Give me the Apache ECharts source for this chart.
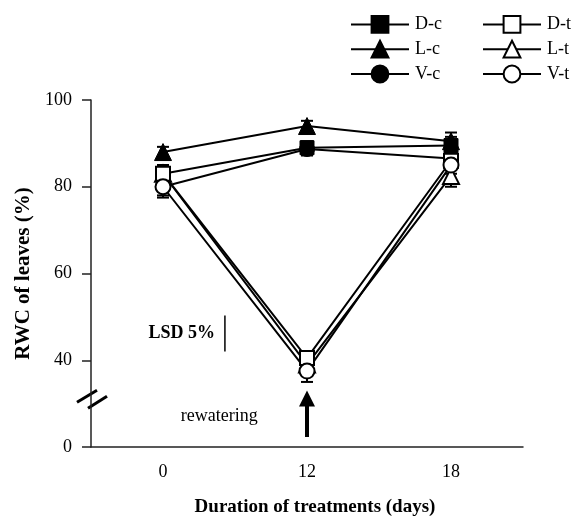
<!DOCTYPE html>
<html><head><meta charset="utf-8">
<script src="https://cdn.jsdelivr.net/npm/echarts@6/dist/echarts.min.js"></script>
<style>html,body{margin:0;padding:0;background:#fff}#c{width:576px;height:518px}</style>
</head><body><div id="c"></div>
<script>
// ---- data ----
const days = ['0', '12', '18'];
const yTickLabels = ['0', '40', '60', '80', '100'];
const D_c = [83, 89, 89.5];
const L_c = [88, 94, 90.5];
const V_c = [80, 88.7, 86.5];
const D_t = [83, 40.5, 86];
const L_t = [83, 39, 82.5];
const V_t = [80, 37.5, 85];
const errD_c = [2, 1.5, 2];
const errL_c = [1.2, 1.2, 2];
const errV_c = [2, 1.5, 2];
const errD_t = [2, 1.5, 2];
const errL_t = [2, 2, 2.5];
const errV_t = [2.5, 2.5, 2];
const LSD = 8.3;
const axisBase = 20;      // value at which the broken axis shows "0"
const breakAt = 31;       // where the break marks sit

const FONT = 'Liberation Serif';
const chart = echarts.init(document.getElementById('c'), null, {renderer: 'canvas'});

function lineSeries(name, data, symbol, filled, size) {
  return {
    name, type: 'line', data, symbol, symbolSize: size,
    z: 3,
    lineStyle: {color: '#000', width: 2},
    itemStyle: filled ? {color: '#000', borderColor: '#000', borderWidth: 1}
                      : {color: '#fff', borderColor: '#000', borderWidth: 2},
    emphasis: {disabled: true},
    animation: false
  };
}
function errSeries(vals, errs) {
  return {
    type: 'custom', silent: true, z: 2, animation: false,
    data: vals.map((v, i) => [i, v, errs[i]]),
    encode: {x: 0, y: 1},
    renderItem(params, api) {
      const i = api.value(0), v = api.value(1), e = api.value(2);
      const t = api.coord([i, v + e]), b = api.coord([i, v - e]);
      const w = 6;
      const st = {stroke: '#000', lineWidth: 2};
      return {type: 'group', children: [
        {type: 'line', shape: {x1: t[0], y1: t[1], x2: b[0], y2: b[1]}, style: st},
        {type: 'line', shape: {x1: t[0] - w, y1: t[1], x2: t[0] + w, y2: t[1]}, style: st},
        {type: 'line', shape: {x1: b[0] - w, y1: b[1], x2: b[0] + w, y2: b[1]}, style: st}
      ]};
    }
  };
}

const legendCommon = {
  orient: 'vertical', top: 15, padding: 0, itemWidth: 58, itemHeight: 21, itemGap: 6,
  textStyle: {fontFamily: FONT, fontSize: 18, color: '#000', padding: [0, 0, 0, 1]},
  selectedMode: false
};

chart.setOption({
  backgroundColor: '#fff',
  animation: false,
  textStyle: {fontFamily: FONT},
  grid: {left: 91, right: 53, top: 100, bottom: 71, containLabel: false, outerBoundsMode: 'none'},
  legend: [
    Object.assign({left: 350, data: ['D-c', 'L-c', 'V-c']}, legendCommon),
    Object.assign({left: 482, data: ['D-t', 'L-t', 'V-t']}, legendCommon)
  ],
  xAxis: {
    type: 'category', data: days, boundaryGap: true,
    name: 'Duration of treatments (days)', nameLocation: 'middle', nameGap: 51,
    nameTextStyle: {fontFamily: FONT, fontSize: 19, fontWeight: 'bold', color: '#000', padding: [0, 0, 0, 16]},
    axisLine: {lineStyle: {color: '#222', width: 1.5}},
    axisTick: {length: 7, lineStyle: {color: '#222', width: 1.5}},
    axisLabel: {fontFamily: FONT, fontSize: 18, color: '#000', margin: 16}
  },
  yAxis: {
    type: 'value', min: axisBase, max: 100, interval: 20,
    name: 'RWC of leaves (%)', nameLocation: 'middle', nameGap: 56,
    nameTextStyle: {fontFamily: FONT, fontSize: 21, fontWeight: 'bold', color: '#000'},
    axisLine: {show: true, lineStyle: {color: '#222', width: 1.5}},
    axisTick: {show: true, length: 9, lineStyle: {color: '#222', width: 1.5}},
    splitLine: {show: false},
    axisLabel: {
      fontFamily: FONT, fontSize: 18, color: '#000', margin: 19,
      formatter: v => yTickLabels[Math.round((v - axisBase) / 20)]
    }
  },
  series: [
    errSeries(L_c, errL_c), errSeries(D_c, errD_c), errSeries(V_c, errV_c),
    errSeries(L_t, errL_t), errSeries(D_t, errD_t), errSeries(V_t, errV_t),
    lineSeries('L-c', L_c, 'triangle', true, 17),
    lineSeries('V-c', V_c, 'circle', true, 15),
    lineSeries('D-c', D_c, 'rect', true, 14),
    lineSeries('L-t', L_t, 'triangle', false, 16),
    lineSeries('D-t', D_t, 'rect', false, 14),
    lineSeries('V-t', V_t, 'circle', false, 15)
  ]
});

// ---- annotations anchored to the axes ----
function P(xIdx, yVal) {
  const a = chart.convertToPixel({gridIndex: 0}, [0, yVal]);
  const b = chart.convertToPixel({gridIndex: 0}, [1, yVal]);
  return [a[0] + (b[0] - a[0]) * xIdx, a[1]];
}
const band = P(1, 50)[0] - P(0, 50)[0];
const axisX = P(0, 50)[0] - band / 2;
const yb = P(0, breakAt)[1];
const tip = P(1, 33), tail = P(1, 22.3);
const lsdTop = P(0.43, 42 + LSD), lsdBot = P(0.43, 42);
const rew = P(0.39, 27.0);

chart.setOption({
  graphic: [
    // axis break marks
    {type: 'line', shape: {x1: axisX - 14, y1: yb + 3, x2: axisX + 6, y2: yb - 9}, style: {stroke: '#000', lineWidth: 3}},
    {type: 'line', shape: {x1: axisX - 3, y1: yb + 9, x2: axisX + 16, y2: yb - 3}, style: {stroke: '#000', lineWidth: 3}},
    // LSD bar
    {type: 'line', shape: {x1: lsdTop[0], y1: lsdTop[1], x2: lsdBot[0], y2: lsdBot[1]}, style: {stroke: '#000', lineWidth: 1.5}},
    {type: 'text', x: lsdTop[0] - 10, y: (lsdTop[1] + lsdBot[1]) / 2,
     style: {text: 'LSD 5%', font: 'bold 18px "Liberation Serif"', fill: '#000', align: 'right', verticalAlign: 'middle'}},
    // rewatering
    {type: 'text', x: rew[0], y: rew[1],
     style: {text: 'rewatering', font: '18px "Liberation Serif"', fill: '#000', align: 'center', verticalAlign: 'middle'}},
    // arrow
    {type: 'line', shape: {x1: tail[0], y1: tail[1], x2: tip[0], y2: tip[1] + 12}, style: {stroke: '#000', lineWidth: 4}},
    {type: 'polygon', shape: {points: [[tip[0], tip[1]], [tip[0] - 8, tip[1] + 16], [tip[0] + 8, tip[1] + 16]]}, style: {fill: '#000'}}
  ]
});
</script>
</body></html>
